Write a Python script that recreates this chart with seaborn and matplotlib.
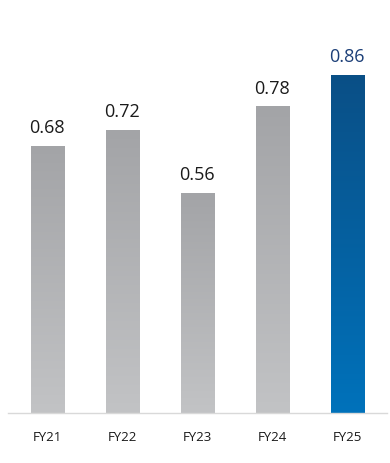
import numpy as np
import pandas as pd
import matplotlib
matplotlib.use('Agg')
import matplotlib.pyplot as plt
import seaborn as sns
from matplotlib.colors import LinearSegmentedColormap

years = ['FY21', 'FY22', 'FY23', 'FY24', 'FY25']
values = [0.68, 0.72, 0.56, 0.78, 0.86]
highlight = 'FY25'

df = pd.DataFrame({'year': years, 'value': values})

sns.set_style('white')
plt.rcParams['font.family'] = ['Open Sans', 'DejaVu Sans']

fig = plt.figure(figsize=(3.9, 4.63), dpi=100)
ax = fig.add_axes([8 / 390, 50 / 463, 379 / 390, 413 / 463])

sns.barplot(data=df, x='year', y='value', color='#b0b1b3', width=0.44,
            saturation=1, ax=ax)

gray = LinearSegmentedColormap.from_list('g', ['#c2c3c5', '#a3a4a7'])
blue = LinearSegmentedColormap.from_list('b', ['#0072bb', '#0a4f86'])
grad = np.linspace(0, 1, 256).reshape(-1, 1)

for patch, yr in zip(ax.patches, years):
    x0, y0 = patch.get_x(), patch.get_y()
    w, h = patch.get_width(), patch.get_height()
    cmap = blue if yr == highlight else gray
    im = ax.imshow(grad, cmap=cmap, origin='lower', aspect='auto',
                   extent=[x0, x0 + w, y0, y0 + h], zorder=2)
    im.set_clip_path(patch)
    patch.set_facecolor('none')
    patch.set_edgecolor('none')
    color = '#1c3f78' if yr == highlight else '#1a1a1a'
    ax.text(x0 + w / 2, h + 0.022, f'{h:.2f}', ha='center', va='bottom',
            fontsize=13, color=color)

ax.set_xlim(-0.52, 4.53)
ax.set_ylim(0, 1.05)
ax.set_xlabel('')
ax.set_ylabel('')
ax.set_yticks([])
ax.tick_params(axis='x', length=0, pad=13, labelsize=9.5, labelcolor='#1a1a1a')
for s in ['top', 'right', 'left']:
    ax.spines[s].set_visible(False)
ax.spines['bottom'].set_color('#d9d9d9')
ax.spines['bottom'].set_linewidth(1)

fig.savefig('out.png', dpi=100)
